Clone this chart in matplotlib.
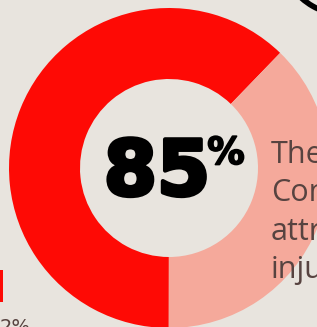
import matplotlib
matplotlib.use("Agg")
import matplotlib.pyplot as plt
from matplotlib.patches import Arc
import matplotlib.patheffects as pe

# Data (proportions as drawn in the reference)
segments = ["Attributed", "Other"]
shares = [62.2, 37.8]
colors = ["#fe0a05", "#f5a99b"]
center_label = "85"
center_suffix = "%"
side_lines = ["The", "Con", "attr", "inju"]

W, H = 317, 327
fig = plt.figure(figsize=(W / 100, H / 100), dpi=100)
bg = "#e8e4de"
fig.patch.set_facecolor(bg)
ax = fig.add_axes([0, 0, 1, 1])
ax.set_facecolor(bg)

cx, cy = 169, H - 168
R, r = 160, 89
ax.pie(shares, colors=colors, startangle=46, counterclock=True,
       center=(cx, cy), radius=R,
       wedgeprops=dict(width=R - r, edgecolor="none", linewidth=0))
ax.set_xlim(0, W)
ax.set_ylim(0, H)
ax.set_aspect("equal")
ax.axis("off")

heavy = [pe.Stroke(linewidth=3, foreground="black"), pe.Normal()]
ax.text(157, H - 195, center_label, fontsize=55, fontweight="bold",
        family=["DejaVu Sans"], color="black", ha="center", va="baseline",
        path_effects=heavy)
ax.text(226, H - 164, center_suffix, fontsize=27, fontweight="bold",
        family=["DejaVu Sans"], color="black", ha="center", va="baseline",
        path_effects=[pe.Stroke(linewidth=1.2, foreground="black"), pe.Normal()])

ys = [163, 201, 240, 278]
for t, y in zip(side_lines, ys):
    ax.text(271, H - y, t, fontsize=22, family=["Open Sans", "DejaVu Sans"],
            color="#574340", ha="left", va="baseline")

# decorative black arc top right
ax.add_patch(Arc((346, H + 52), 134, 134, theta1=195, theta2=285,
                 color="black", linewidth=4))
# red mark bottom left
ax.fill([0, 3, 3, 0], [H - 270, H - 270, H - 302, H - 302], color="#fe0a05", lw=0)
ax.text(0, H - 333, "2%", fontsize=14, color="#574340", ha="left", va="baseline")

fig.savefig("out.png", dpi=100, facecolor=bg)
